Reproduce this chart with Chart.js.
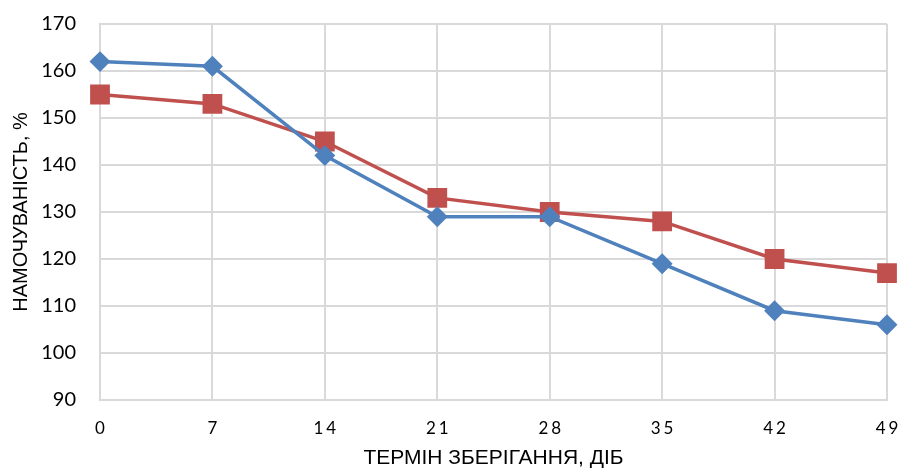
<!DOCTYPE html>
<html>
<head>
<meta charset="utf-8">
<script src="https://cdn.jsdelivr.net/npm/chart.js@4/dist/chart.umd.min.js"></script>
<style>
  html, body { margin: 0; padding: 0; background: #fff; }
  #wrap { width: 902px; height: 475px; }
</style>
</head>
<body>
<div id="wrap"><canvas id="c" width="902" height="475"></canvas></div>
<script>
// Storage period, days
const days = ['0', '7', '14', '21', '28', '35', '42', '49'];
// Swelling capacity, %
const seriesBlue = [162, 161, 142, 129, 129, 119, 109, 106];
const seriesRed = [155, 153, 145, 133, 130, 128, 120, 117];
const yMin = 90, yMax = 170, yStep = 10;

const gridColor = '#D9D9D9';
const tickFont = 'Lato, "Liberation Sans", sans-serif';
const titleFont = '"Liberation Sans", Arial, sans-serif';

// spread the digits of the day labels a little
const spaced = s => s.split('').join('\u2006');

new Chart(document.getElementById('c'), {
  type: 'line',
  data: {
    labels: days,
    datasets: [
      {
        data: seriesBlue,
        borderColor: '#4F81BD',
        backgroundColor: '#4F81BD',
        borderWidth: 3.5,
        pointStyle: 'rectRot',
        pointRadius: 8,
        pointHoverRadius: 8,
        tension: 0
      },
      {
        data: seriesRed,
        borderColor: '#C0504D',
        backgroundColor: '#C0504D',
        borderWidth: 3.5,
        pointStyle: 'rect',
        pointRadius: 11.5,
        pointHoverRadius: 11.5,
        tension: 0
      }
    ]
  },
  options: {
    responsive: false,
    animation: false,
    events: [],
    layout: { autoPadding: false, padding: { top: 24, right: 15, left: 0, bottom: 0 } },
    plugins: { legend: { display: false }, tooltip: { enabled: false } },
    scales: {
      x: {
        offset: false,
        grid: { color: gridColor, lineWidth: 2, drawTicks: false },
        border: { color: gridColor, width: 2 },
        ticks: { color: '#000', font: { family: tickFont, size: 17 }, padding: 18, maxRotation: 0,
                 callback: function (v) { return spaced(this.getLabelForValue(v)); } },
        title: { display: true, text: 'ТЕРМІН ЗБЕРІГАННЯ, ДІБ', color: '#000',
                 font: { family: titleFont, size: 21 }, padding: { top: 3 } },
        afterFit: s => { s.height = 75; s.paddingLeft = 0; s.paddingRight = 0; }
      },
      y: {
        min: yMin, max: yMax,
        grid: { color: gridColor, lineWidth: 2, drawTicks: false },
        border: { color: gridColor, width: 2 },
        ticks: { stepSize: yStep, color: '#000', font: { family: tickFont, size: 20 }, padding: 24 },
        title: { display: true, text: 'НАМОЧУВАНІСТЬ, %', color: '#000',
                 font: { family: titleFont, size: 20 }, padding: { bottom: 0, top: 9 } },
        afterFit: s => { s.width = 100; s.paddingTop = 0; s.paddingBottom = 0; }
      }
    }
  }
});
</script>
</body>
</html>
